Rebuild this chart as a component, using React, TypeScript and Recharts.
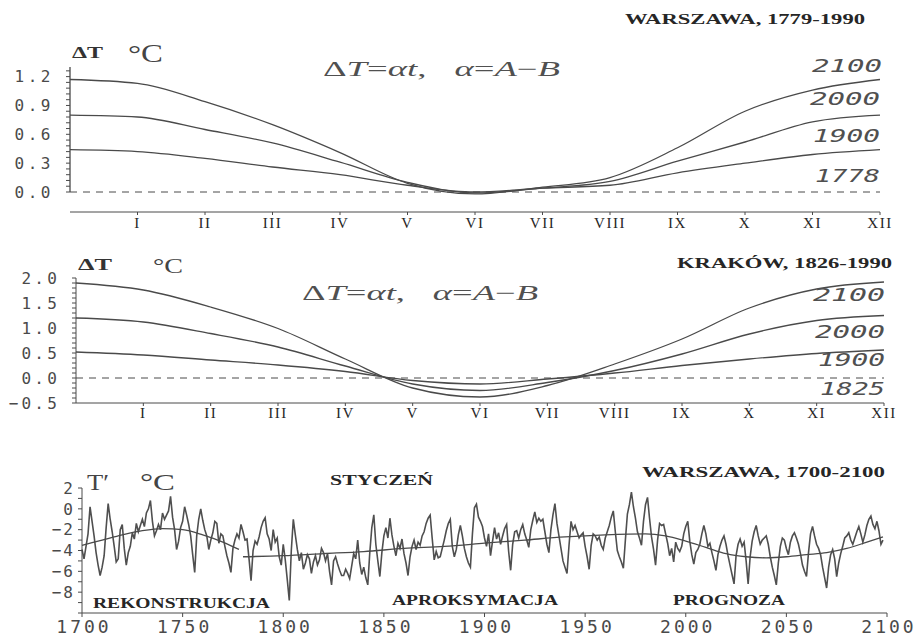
import React from 'react';
import { LineChart, Line, XAxis, YAxis, ReferenceLine } from 'recharts';

// months 0..12 (0 = previous December), roman labels for 1..12
const MONTHS = [0, 1, 2, 3, 4, 5, 6, 7, 8, 9, 10, 11, 12];
const ROMAN = ['', 'I', 'II', 'III', 'IV', 'V', 'VI', 'VII', 'VIII', 'IX', 'X', 'XI', 'XII'];

// Warszawa 1779-1990: dT by month for 1900 / 2000 / 2100 (1778 = 0)
const WAW_2100 = [1.17, 1.13, 0.94, 0.70, 0.41, 0.09, -0.02, 0.05, 0.15, 0.46, 0.84, 1.06, 1.17];
const WAW_2000 = [0.80, 0.78, 0.65, 0.51, 0.31, 0.10, -0.01, 0.04, 0.11, 0.32, 0.52, 0.73, 0.80];
const WAW_1900 = [0.44, 0.42, 0.35, 0.26, 0.18, 0.07, 0.0, 0.04, 0.07, 0.20, 0.30, 0.39, 0.44];
const WAW_Y_MAJOR = [0, 0.3, 0.6, 0.9, 1.2];
const WAW_Y_LABELS = ['0.0', '0.3', '0.6', '0.9', '1.2'];

// Krakow 1826-1990 (1825 = 0)
const KRK_2100 = [1.90, 1.76, 1.42, 0.99, 0.38, -0.20, -0.38, -0.15, 0.28, 0.78, 1.40, 1.78, 1.92];
const KRK_2000 = [1.20, 1.12, 0.89, 0.62, 0.24, -0.12, -0.25, -0.09, 0.15, 0.48, 0.88, 1.15, 1.25];
const KRK_1900 = [0.52, 0.46, 0.36, 0.26, 0.13, -0.05, -0.12, -0.02, 0.10, 0.25, 0.38, 0.49, 0.56];
const KRK_Y_MAJOR = [-0.5, 0, 0.5, 1.0, 1.5, 2.0];
const KRK_Y_LABELS = ['\u22120.5', '0.0', '0.5', '1.0', '1.5', '2.0'];

// January temperature anomaly T', Warszawa, yearly from 1700
const JAN_START = 1700;
const JAN_T = [
  -3.9, -4.8, -3.6, -2.4, 0.2, -1.2, -2.6, -4.2, -5.4, -6.4,
  -5.6, -4.5, -1.8, 0.5, -1.0, -2.2, -3.6, -5.1, -4.8, -2.0,
  -1.5, -3.8, -5.4, -4.2, -3.6, -2.3, -2.9, -1.4, -2.2, -1.6,
  -1.0, -1.7, -0.4, 0.0, 0.8, -1.2, -2.6, -2.1, -1.5, -2.0,
  -0.4, -1.0, -0.6, -0.2, 1.2, -0.8, -2.0, -3.9, -3.1, -1.8,
  -1.2, 0.2, -0.6, -1.5, -2.6, -4.4, -6.1, -2.6, -1.0, 0.0,
  -1.1, -2.0, -2.6, -3.9, -3.0, -2.3, -1.2, -1.4, -3.3, -2.4,
  -2.6, -3.6, -4.5, -5.2, -6.1, -3.8, -3.0, -2.4, -2.8, -1.5,
  -2.2, -3.0, -2.9, -4.8, -6.9, -4.0, -3.1, -3.4, -2.7, -1.8,
  -1.2, -0.85, -2.4, -2.9, -4.0, -2.0, -3.2, -2.8, -4.6, -5.4,
  -3.4, -4.9, -6.8, -8.8, -4.0, -1.0, -2.5, -3.9, -5.0, -4.2,
  -5.8, -5.2, -4.4, -4.8, -6.2, -5.1, -4.5, -5.4, -4.9, -3.8,
  -4.2, -5.0, -4.3, -6.0, -7.3, -5.0, -4.6, -5.3, -5.9, -6.4,
  -6.4, -5.8, -6.2, -6.7, -5.5, -4.3, -4.8, -3.0, -5.2, -6.3,
  -5.6, -6.6, -7.3, -4.2, -1.8, -0.57, -3.4, -5.0, -6.5, -4.2,
  -2.6, -1.8, -2.8, -0.9, -2.5, -3.6, -4.5, -3.3, -3.8, -2.9,
  -4.3, -5.2, -6.4, -4.6, -3.6, -3.0, -3.9, -3.2, -3.5, -2.6,
  -2.2, -1.4, -0.9, -0.6, -2.8, -4.9, -4.1, -4.7, -4.6, -3.8,
  -3.0, -2.1, -1.4, -1.0, -3.6, -4.6, -3.9, -2.5, -1.6, -2.6,
  -3.8, -4.6, -5.2, -5.6, -2.4, 0.1, 0.45, -0.8, -1.2, -1.7,
  -2.8, -3.6, -2.4, -4.5, -3.1, -1.8, -2.9, -2.3, -3.4, -2.6,
  -1.9, -1.5, -4.1, -5.9, -3.4, -2.2, -2.1, -2.8, -2.0, -1.5,
  -2.4, -3.0, -3.7, -2.0, -1.1, -0.3, -1.3, -0.9, -1.2, -1.0,
  -2.2, -3.4, -4.2, -2.0, -0.6, 0.5, -1.4, -2.6, -3.8, -5.0,
  -5.6, -6.2, -3.5, -1.2, -2.0, -1.6, -2.2, -2.8, -2.5, -2.3,
  -3.6, -4.6, -5.8, -3.5, -2.4, -2.6, -3.0, -2.7, -3.5, -3.9,
  -2.8, -2.2, -1.6, -0.8, -0.2, -2.2, -4.0, -4.6, -5.1, -5.7,
  -3.0, -0.5, 0.4, 1.6, 0.2, -0.9, -2.2, -2.8, -3.5, -1.2,
  0.4, 1.1, -0.9, -2.7, -3.9, -5.4, -3.0, -1.4, -1.6, -1.5,
  -2.4, -3.3, -4.5, -3.8, -5.1, -3.2, -3.8, -4.1, -3.6, -2.4,
  -1.7, -1.2, -3.1, -4.4, -5.3, -4.2, -3.9, -3.4, -2.4, -1.6,
  -2.4, -3.6, -3.3, -4.2, -5.0, -5.9, -4.4, -3.6, -3.0, -2.6,
  -3.4, -4.5, -5.4, -6.3, -7.2, -4.5, -3.4, -2.9, -3.6, -3.2,
  -5.0, -7.2, -4.6, -3.1, -2.2, -1.6, -2.6, -3.4, -3.0, -2.8,
  -2.6, -3.4, -4.6, -5.6, -6.4, -7.3, -5.2, -3.6, -2.8, -3.0,
  -3.8, -4.4, -3.2, -2.6, -2.3, -2.8, -3.4, -4.3, -5.4, -6.0,
  -6.5, -4.2, -2.4, -1.7, -2.6, -3.4, -3.8, -4.4, -5.6, -6.6,
  -7.6, -5.6, -4.4, -3.9, -4.8, -6.5, -5.2, -4.3, -3.6, -2.8,
  -2.6, -2.3, -3.0, -3.4, -2.8, -2.2, -1.7, -2.4, -3.2, -2.5,
  -1.6, -1.0, -0.7, -1.5, -1.9, -1.2, -2.1, -3.4, -3.0,
];

// smoothed curves: reconstruction period, then approximation + forecast
const FIT_RECON_YEARS = [1700, 1710, 1720, 1730, 1740, 1750, 1760, 1770, 1778];
const FIT_RECON = [-3.5, -3.0, -2.5, -2.1, -1.9, -2.0, -2.5, -3.2, -3.9];
const FIT_MAIN_YEARS = [1780, 1800, 1820, 1840, 1860, 1880, 1900, 1920, 1940, 1960, 1980, 1990, 2000, 2010, 2020, 2030, 2040, 2050, 2060, 2070, 2080, 2090, 2098];
const FIT_MAIN = [-4.6, -4.5, -4.3, -4.1, -3.8, -3.6, -3.3, -3.0, -2.7, -2.5, -2.4, -2.6, -3.1, -3.7, -4.3, -4.6, -4.7, -4.6, -4.4, -4.2, -3.8, -3.2, -2.7];

const JAN_X_TICKS = [1700, 1750, 1800, 1850, 1900, 1950, 2000, 2050, 2100];
const JAN_Y_MAJOR = [2, 0, -2, -4, -6, -8];
const JAN_Y_LABELS = ['2', '0', '\u22122', '\u22124', '\u22126', '\u22128'];

const INK = '#4a4a4a';
const DARK = '#262626';
const MONO = '"DejaVu Sans Mono", monospace';
const SERIF = '"Liberation Serif", "Times New Roman", serif';

const range = (from: number, to: number, step: number) => {
  const out: number[] = [];
  for (let v = from; v <= to + 1e-9; v += step) out.push(+v.toFixed(3));
  return out;
};

const pick = (majors: number[], labels: string[]) => (v: number) => {
  const i = majors.findIndex((m) => Math.abs(m - v) < 1e-6);
  return i >= 0 ? labels[i] : '';
};

const makeYTick = (fmt: (v: number) => string, size: number, spacing: number) => (props: any) => {
  const { x, y, payload } = props;
  const s = fmt(payload.value);
  if (!s) return <g />;
  return (
    <text x={x} y={y} dy={size * 0.36} textAnchor="end" fontFamily={MONO} fontSize={size} letterSpacing={spacing} fill={INK}>
      {s}
    </text>
  );
};

const RomanTick = (props: any) => {
  const { x, y, payload } = props;
  return (
    <text x={x} y={y} dy={11} textAnchor="middle" fontFamily={SERIF} fontSize={15} letterSpacing={1.5} fill={DARK}>
      {ROMAN[payload.value]}
    </text>
  );
};

const YearTick = (props: any) => {
  const { x, y, payload } = props;
  return (
    <text x={x + 2} y={y} dy={14} textAnchor="middle" fontFamily={MONO} fontSize={18} letterSpacing={3} fill={INK}>
      {payload.value}
    </text>
  );
};

const wawData = MONTHS.map((m, i) => ({ m, y2100: WAW_2100[i], y2000: WAW_2000[i], y1900: WAW_1900[i] }));
const krkData = MONTHS.map((m, i) => ({ m, y2100: KRK_2100[i], y2000: KRK_2000[i], y1900: KRK_1900[i] }));
const janData = JAN_T.map((t, i) => ({ year: JAN_START + i, t }));
const reconData = FIT_RECON_YEARS.map((year, i) => ({ year, fit: FIT_RECON[i] }));
const mainData = FIT_MAIN_YEARS.map((year, i) => ({ year, fit: FIT_MAIN[i] }));

const curve = (key: string) => (
  <Line key={key} type="monotone" dataKey={key} stroke={INK} strokeWidth={1.3} dot={false} isAnimationActive={false} />
);

// stretched text: glyphs are scaled to fill the given width
function Stretch(props: { x: number; y: number; w: number; size: number; family?: string; bold?: boolean; italic?: boolean; fill?: string; children: React.ReactNode }) {
  const { x, y, w, size, family = SERIF, bold, italic, fill = '#444', children } = props;
  return (
    <text
      x={x}
      y={y}
      fontFamily={family}
      fontSize={size}
      fontWeight={bold ? 'bold' : 'normal'}
      fontStyle={italic ? 'italic' : 'normal'}
      fill={fill}
      textLength={w}
      lengthAdjust="spacingAndGlyphs"
    >
      {children}
    </text>
  );
}

function Formula({ x, y, width }: { x: number; y: number; width: number }) {
  return (
    <text x={x} y={y} fontFamily={SERIF} fontSize={21} fill="#505050" textLength={width} lengthAdjust="spacingAndGlyphs">
      <tspan>Δ</tspan>
      <tspan fontStyle="italic">T</tspan>
      <tspan>=</tspan>
      <tspan fontStyle="italic">αt</tspan>
      <tspan>,</tspan>
      <tspan dx={16} fontStyle="italic">α</tspan>
      <tspan>=</tspan>
      <tspan fontStyle="italic">A</tspan>
      <tspan>−</tspan>
      <tspan fontStyle="italic">B</tspan>
    </text>
  );
}

const Tag = ({ x, y, w, children }: { x: number; y: number; w: number; children: string }) => (
  <Stretch x={x} y={y} w={w} size={18} family={MONO} italic fill="#505050">{children}</Stretch>
);

const Caps = ({ x, y, w, children }: { x: number; y: number; w: number; children: string }) => (
  <Stretch x={x} y={y} w={w} size={15} bold fill={DARK}>{children}</Stretch>
);

export default function App() {
  return (
    <div style={{ position: 'absolute', left: 0, top: 0, width: 921, height: 637, background: '#fff', overflow: 'hidden' }}>
      {/* Warszawa monthly dT */}
      <div style={{ position: 'absolute', left: 0, top: 0 }}>
        <LineChart width={921} height={240} data={wawData} margin={{ top: 67, right: 41, bottom: 0, left: 0 }}>
          <XAxis
            dataKey="m"
            type="number"
            domain={[0, 12]}
            ticks={MONTHS.slice(1)}
            interval={0}
            height={28}
            stroke={INK}
            tickSize={3}
            tickMargin={2}
            tick={RomanTick}
          />
          <YAxis
            type="number"
            domain={[-0.208, 1.3]}
            ticks={range(0, 1.26, 0.06)}
            interval={0}
            width={70}
            axisLine={false}
            stroke={INK}
            tickSize={4}
            tickMargin={12}
            tick={makeYTick(pick(WAW_Y_MAJOR, WAW_Y_LABELS), 16, 3.5)}
            allowDataOverflow
          />
          <ReferenceLine segment={[{ x: 0, y: 0 }, { x: 0, y: 1.3 }]} stroke={INK} strokeWidth={1.3} ifOverflow="visible" />
          <ReferenceLine y={0} stroke={INK} strokeDasharray="7 6" />
          {curve('y2100')}
          {curve('y2000')}
          {curve('y1900')}
        </LineChart>
      </div>

      {/* Krakow monthly dT */}
      <div style={{ position: 'absolute', left: 0, top: 240 }}>
        <LineChart width={921} height={190} data={krkData} margin={{ top: 38, right: 37, bottom: 0, left: 0 }}>
          <XAxis
            dataKey="m"
            type="number"
            domain={[0, 12]}
            ticks={MONTHS.slice(1)}
            interval={0}
            height={27}
            stroke={INK}
            tickSize={3}
            tickMargin={1}
            tick={RomanTick}
          />
          <YAxis
            type="number"
            domain={[-0.5, 2.0]}
            ticks={range(-0.5, 2.0, 0.1)}
            interval={0}
            width={76}
            stroke={INK}
            tickSize={4}
            tickMargin={12}
            tick={makeYTick(pick(KRK_Y_MAJOR, KRK_Y_LABELS), 16, 3.2)}
          />
          <ReferenceLine y={0} stroke={INK} strokeDasharray="7 6" />
          {curve('y2100')}
          {curve('y2000')}
          {curve('y1900')}
        </LineChart>
      </div>

      {/* Warszawa January series 1700-2100 */}
      <div style={{ position: 'absolute', left: 0, top: 440 }}>
        <LineChart width={921} height={197} data={janData} margin={{ top: 48, right: 34, bottom: 0, left: 0 }}>
          <XAxis
            dataKey="year"
            type="number"
            domain={[1700, 2100]}
            ticks={JAN_X_TICKS}
            interval={0}
            height={24}
            stroke={INK}
            tickSize={4}
            tickMargin={2}
            tick={YearTick}
          />
          <YAxis
            type="number"
            domain={[-10, 2]}
            ticks={range(-10, 2, 1)}
            interval={0}
            width={82}
            stroke={INK}
            tickSize={4}
            tickMargin={3}
            tick={makeYTick(pick(JAN_Y_MAJOR, JAN_Y_LABELS), 16, 2)}
          />
          <Line type="linear" dataKey="t" stroke="#4f4f4f" strokeWidth={1.6} dot={false} isAnimationActive={false} />
          <Line data={reconData} type="monotone" dataKey="fit" stroke={INK} strokeWidth={1.3} dot={false} isAnimationActive={false} />
          <Line data={mainData} type="monotone" dataKey="fit" stroke={INK} strokeWidth={1.3} dot={false} isAnimationActive={false} />
        </LineChart>
      </div>

      <svg width={921} height={637} style={{ position: 'absolute', left: 0, top: 0, pointerEvents: 'none' }}>
        {/* top panel */}
        <Caps x={625} y={24} w={240}>WARSZAWA, 1779-1990</Caps>
        <Stretch x={72} y={58} w={31} size={17} bold fill="#333">ΔT</Stretch>
        <Stretch x={128} y={62} w={35} size={25}>°C</Stretch>
        <Formula x={323} y={76} width={237} />
        <Tag x={812} y={72} w={70}>2100</Tag>
        <Tag x={810} y={105} w={70}>2000</Tag>
        <Tag x={813} y={142} w={67}>1900</Tag>
        <Tag x={815} y={182} w={65}>1778</Tag>

        {/* middle panel */}
        <Caps x={677} y={268} w={215}>KRAKÓW, 1826-1990</Caps>
        <Stretch x={78} y={270} w={34} size={17} bold fill="#333">ΔT</Stretch>
        <Stretch x={153} y={273} w={30} size={22}>°C</Stretch>
        <Formula x={302} y={300} width={236} />
        <Tag x={813} y={301} w={72}>2100</Tag>
        <Tag x={815} y={338} w={70}>2000</Tag>
        <Tag x={818} y={366} w={67}>1900</Tag>
        <Tag x={820} y={395} w={65}>1825</Tag>

        {/* bottom panel */}
        <Stretch x={87} y={490} w={22} size={24}>T′</Stretch>
        <Stretch x={140} y={490} w={35} size={24}>°C</Stretch>
        <Caps x={330} y={485} w={103}>STYCZEŃ</Caps>
        <Caps x={642} y={477} w={243}>WARSZAWA, 1700-2100</Caps>
        <Caps x={93} y={608} w={177}>REKONSTRUKCJA</Caps>
        <Caps x={392} y={605} w={166}>APROKSYMACJA</Caps>
        <Caps x={673} y={605} w={112}>PROGNOZA</Caps>
      </svg>
    </div>
  );
}
